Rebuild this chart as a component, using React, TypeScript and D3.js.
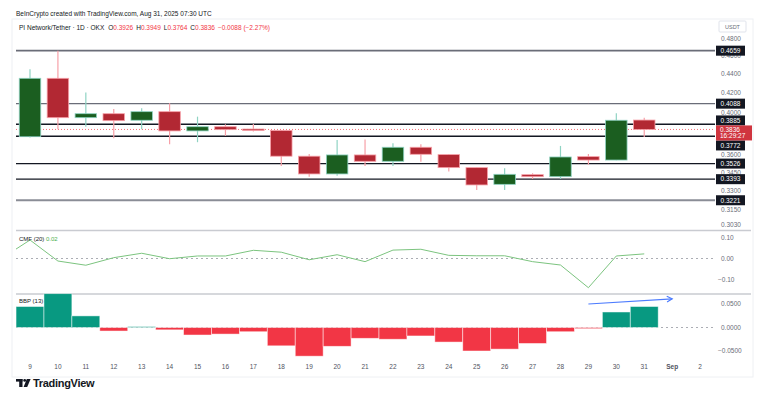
import React from 'react'
import * as d3 from 'd3'

// daily candles Aug 9 .. Aug 31, 2025 (PI/USDT, OKX)
const days = ['9','10','11','12','13','14','15','16','17','18','19','20','21','22','23','24','25','26','27','28','29','30','31']
const xTicks = [...days, 'Sep', '2']
const open  = [0.3768,0.4352,0.3949,0.3988,0.3924,0.4008,0.3822,0.3862,0.3840,0.3826,0.3591,0.3437,0.3602,0.3546,0.3671,0.3605,0.3491,0.3350,0.3431,0.3414,0.3587,0.3557,0.3926]
const high  = [0.4450,0.4659,0.4201,0.4035,0.4042,0.4092,0.3959,0.3885,0.3887,0.3830,0.3611,0.3737,0.3743,0.3707,0.3698,0.3608,0.3493,0.3486,0.3443,0.3683,0.3611,0.3992,0.3949]
const low   = [0.3760,0.3837,0.3862,0.3753,0.3837,0.3698,0.3717,0.3775,0.3817,0.3505,0.3414,0.3421,0.3505,0.3505,0.3543,0.3457,0.3304,0.3304,0.3395,0.3395,0.3516,0.3555,0.3764]
const close = [0.4352,0.3949,0.3988,0.3920,0.4008,0.3822,0.3862,0.3834,0.3826,0.3591,0.3437,0.3602,0.3546,0.3671,0.3608,0.3491,0.3345,0.3434,0.3414,0.3584,0.3557,0.3924,0.3836]

// Chaikin money flow (20), first value is Aug 8
const cmf = [0.002,0.088,-0.012,-0.032,0.004,0.025,-0.001,0.012,0.012,0.039,0.030,-0.006,0.018,-0.015,0.040,0.044,0.015,0.013,0.013,-0.015,-0.031,-0.139,0.012,0.022]
// bull bear power (13)
const bbp = [0.0447,0.072,0.0247,-0.0075,0.002,-0.005,-0.016,-0.014,-0.009,-0.039,-0.061,-0.040,-0.023,-0.025,-0.018,-0.031,-0.050,-0.046,-0.034,-0.009,-0.0025,0.033,0.0447]

// drawn horizontal levels
const levels = [0.4659, 0.4088, 0.3885, 0.3772, 0.3526, 0.3393, 0.3221]
const levelColors = ['#6a6d78', '#6a6d78', '#131722', '#131722', '#131722', '#131722', '#8a8d96']
const priceTicks = [0.48, 0.46, 0.44, 0.42, 0.40, 0.38, 0.36, 0.345, 0.33, 0.315, 0.303]
const cmfTicks = [0.1, 0, -0.1]
const bbpTicks = [0.05, 0, -0.05]
const lastPrice = 0.3836

const W = 759, H = 393
const L = 16, R = 715
const font = '"Liberation Sans", Arial, sans-serif'

export default function App() {
  const x = d3.scaleLinear().domain([0, 24]).range([30, 30 + 24 * 27.92])
  const step = x(1) - x(0)
  const bodyW = step * 0.77
  const y = d3.scaleLog().domain([0.2993, 0.5013]).range([230, 21])
  const yc = d3.scaleLinear().domain([-0.1, 0.1]).range([279.5, 237.5])
  const yb = d3.scaleLinear().domain([-0.05, 0.05]).range([351, 304])

  const cmfLine = d3.line<number>().x((d, i) => x(i - 1)).y(d => yc(d))(cmf)

  // right-axis labels, pushed away from the live price tag
  const tagTop = y(lastPrice) - 4, tagBot = y(lastPrice) + 11
  const boxes = levels.map(v => {
    let c = y(v)
    if (c < y(lastPrice) && c + 5 > tagTop) c = tagTop - 5
    if (c > y(lastPrice) && c - 5 < tagBot) c = tagBot + 5
    return { v, c }
  })
  // tick labels fully under the live tag are not shown
  const ticksShown = priceTicks.filter(v => y(v) < tagTop - 3 || y(v) > tagBot + 3)

  const fmt4 = d3.format('.4f')
  const fmt2 = d3.format('.2f')
  const minus = (s: string) => s.replace('-', '\u2212')

  const arrowA = [x(20), yb(0.05)], arrowB = [x(23), yb(0.061)]
  const ang = Math.atan2(arrowB[1] - arrowA[1], arrowB[0] - arrowA[0])
  const head = (s: number) => [arrowB[0] - 6 * Math.cos(ang + s * 0.5), arrowB[1] - 6 * Math.sin(ang + s * 0.5)]

  return (
    <svg width={W} height={H} style={{ position: 'absolute', left: 0, top: 0, background: '#fff' }} fontFamily={font}>
      <defs>
        <clipPath id="plot"><rect x={L} y={20} width={R - L} height={340} /></clipPath>
      </defs>

      {/* header */}
      <text x={16} y={16} fontSize={6.5} fill="#131722">BeInCrypto created with TradingView.com, Aug 31, 2025 07:30 UTC</text>
      <text x={19} y={29.5} fontSize={6.5} fill="#131722">
        PI Network/Tether · 1D · OKX
        <tspan dx={4}>O</tspan><tspan fill="#f23645">{fmt4(open[22])}</tspan>
        <tspan dx={3}>H</tspan><tspan fill="#f23645">{fmt4(high[22])}</tspan>
        <tspan dx={3}>L</tspan><tspan fill="#f23645">{fmt4(low[22])}</tspan>
        <tspan dx={3}>C</tspan><tspan fill="#f23645">{fmt4(close[22])}</tspan>
        <tspan dx={3} fill="#f23645">−0.0088 (−2.27%)</tspan>
      </text>

      {/* frame & separators */}
      <rect x={12} y={19} width={741} height={358} fill="none" stroke="#eef0f3" />
      <line x1={L} x2={751} y1={230.5} y2={230.5} stroke="#c9cbd1" strokeWidth={1.5} />
      <line x1={L} x2={751} y1={294} y2={294} stroke="#c9cbd1" strokeWidth={1.5} />

      {/* price axis */}
      <rect x={719} y={21} width={27} height={11} fill="none" stroke="#e0e3eb" rx={1} />
      <text x={732.5} y={28.8} fontSize={5.5} fill="#6a6d78" textAnchor="middle">USDT</text>
      {ticksShown.map(v => (
        <text key={v} x={721} y={y(v) + 2.3} fontSize={6.5} fill="#6a6d78">{fmt4(v)}</text>
      ))}

      <g clipPath="url(#plot)">
        {levels.map((v, i) => (
          <line key={v} x1={L} x2={R} y1={y(v)} y2={y(v)} stroke={levelColors[i]}
            strokeWidth={i === 0 || i === 6 ? 1.8 : 1.4} />
        ))}
        <line x1={L} x2={R} y1={y(lastPrice)} y2={y(lastPrice)} stroke="#f23645" strokeDasharray="1 2" strokeWidth={1} opacity={0.7} />

        {close.map((c, i) => {
          const up = c >= open[i]
          const fill = up ? '#1b5e20' : '#b22833'
          const edge = up ? '#8fd3c3' : '#f7a0a8'
          const top = y(Math.max(open[i], c)), bot = y(Math.min(open[i], c))
          return (
            <g key={i}>
              <line x1={x(i)} x2={x(i)} y1={y(high[i])} y2={y(low[i])} stroke={edge} strokeWidth={1.2} />
              <rect x={x(i) - bodyW / 2} y={top} width={bodyW} height={Math.max(bot - top, 1.5)}
                fill={fill} stroke={edge} strokeWidth={0.8} />
            </g>
          )
        })}

        {/* CMF */}
        <line x1={L} x2={R} y1={yc(0)} y2={yc(0)} stroke="#9598a1" strokeDasharray="2 3" strokeWidth={0.8} />
        <path d={cmfLine || ''} fill="none" stroke="#7cc47f" strokeWidth={1} />

        {/* BBP */}
        <line x1={L} x2={R} y1={yb(0)} y2={yb(0)} stroke="#9598a1" strokeDasharray="2 3" strokeWidth={0.8} />
        {bbp.map((v, i) => (
          <rect key={i} x={x(i) - step / 2} y={Math.min(yb(v), yb(0))} width={step}
            height={Math.max(Math.abs(yb(v) - yb(0)), 0.8)}
            fill={v >= 0 ? '#089981' : '#f23645'} stroke="#fff" strokeOpacity={0.6} strokeWidth={0.8} />
        ))}
      </g>

      {/* arrow annotation */}
      <g stroke="#4d7cfe" strokeWidth={1.2} fill="none">
        <line x1={arrowA[0]} y1={arrowA[1]} x2={arrowB[0]} y2={arrowB[1]} />
        <polyline points={`${head(1)[0]},${head(1)[1]} ${arrowB[0]},${arrowB[1]} ${head(-1)[0]},${head(-1)[1]}`} />
      </g>

      {/* level tags */}
      {boxes.map(b => (
        <g key={b.v}>
          <rect x={716} y={b.c - 5} width={29} height={10} fill="#131722" />
          <text x={730.5} y={b.c + 2.3} fontSize={6.5} fill="#fff" textAnchor="middle">{fmt4(b.v)}</text>
        </g>
      ))}
      <rect x={716} y={tagTop} width={36} height={tagBot - tagTop} fill="#d0353f" />
      <text x={720} y={y(lastPrice) + 2.3} fontSize={6.5} fill="#fff">{fmt4(lastPrice)}</text>
      <text x={720} y={y(lastPrice) + 9} fontSize={6.5} fill="#fff">16:29:27</text>

      {/* indicator panels */}
      <text x={19} y={240.5} fontSize={6} fill="#131722">CMF (20) <tspan fill="#4caf50">{fmt2(cmf[cmf.length - 1])}</tspan></text>
      {cmfTicks.map(v => (
        <text key={v} x={v < 0 ? 718 : 721} y={yc(v) + 2.3} fontSize={6.5} fill="#6a6d78">{minus(fmt2(v))}</text>
      ))}
      <text x={19} y={303} fontSize={6} fill="#131722">BBP (13)</text>
      {bbpTicks.map(v => (
        <text key={v} x={v < 0 ? 718 : 721} y={yb(v) + 2.3} fontSize={6.5} fill="#6a6d78">{minus(fmt4(v))}</text>
      ))}

      {/* time axis */}
      {xTicks.map((t, i) => (
        <text key={t + i} x={x(i)} y={369} fontSize={6.5} fill="#50535e" textAnchor="middle"
          fontWeight={t === 'Sep' ? 700 : 400}>{t}</text>
      ))}

      {/* logo */}
      <g fill="#131722">
        <rect x={16} y={379} width={6.5} height={2.6} />
        <rect x={19.2} y={379} width={3.3} height={8} />
        <circle cx={24.7} cy={380.4} r={1.4} />
        <polygon points="26.8,379 30.6,379 27.2,387 23.6,387" />
      </g>
      <text x={33} y={387} fontSize={11} fontWeight={600} fill="#131722" letterSpacing={-0.3}>TradingView</text>
    </svg>
  )
}
